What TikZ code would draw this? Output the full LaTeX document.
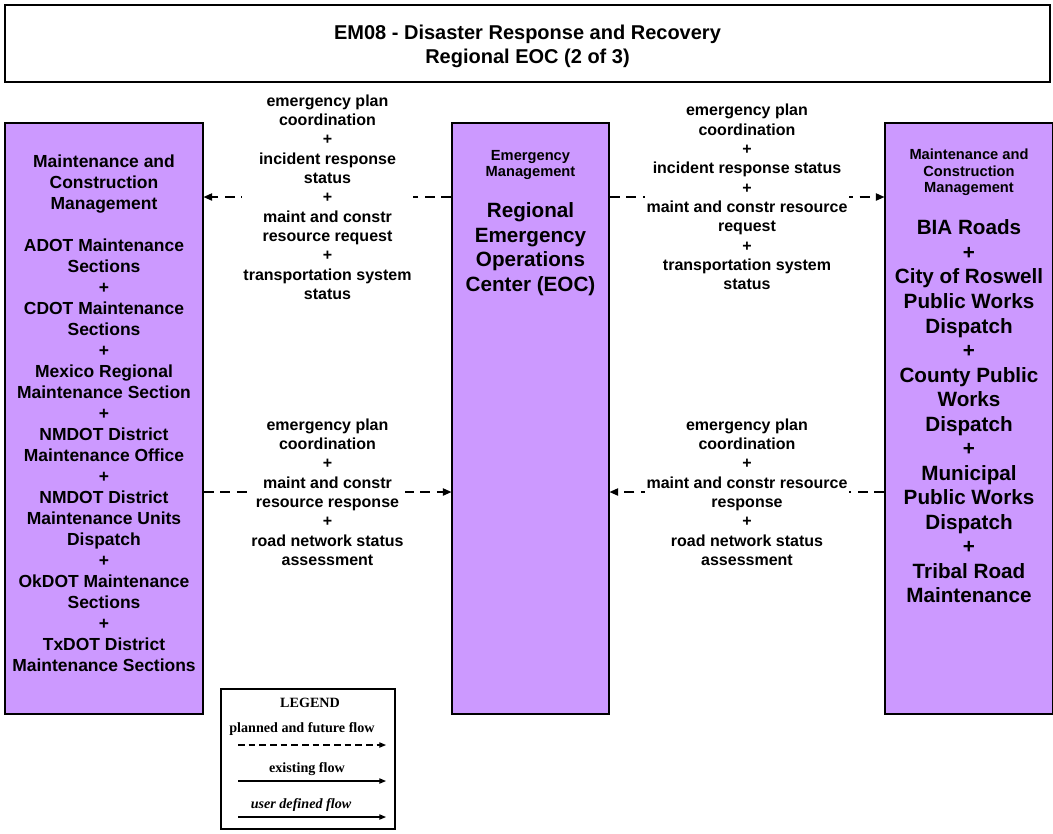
\documentclass[tikz,border=0pt]{standalone}
\usepackage{fontspec}
\setmainfont{Liberation Sans}
\newfontfamily\legendfont{Liberation Serif}
\usetikzlibrary{arrows.meta}
\definecolor{boxpurple}{RGB}{204,153,255}
\begin{document}
\begin{tikzpicture}[x=0.75pt, y=-0.75pt,
    sysbox/.style={draw=black, line width=0.8pt, fill=boxpurple, inner sep=0pt, minimum height=443.25pt},
    smalltext/.style={align=center, font=\fontsize{11}{12.4}\selectfont\bfseries},
    bigtext/.style={align=center, font=\fontsize{15.5}{18.4}\selectfont\bfseries},
    flow/.style={line width=1.1pt, dash pattern=on 7.5pt off 5pt, -{Triangle[length=6.5pt,width=5.5pt]}},
    flowlabel/.style={fill=white, inner sep=1pt, align=center, font=\fontsize{12}{14.5}\selectfont\bfseries},
    legendtext/.style={font=\legendfont\fontsize{10.6}{12}\selectfont\bfseries},
    legenditalic/.style={font=\legendfont\fontsize{10.6}{12}\selectfont\bfseries\itshape},
    legendline/.style={line width=0.8pt, -{Triangle[length=5pt,width=4pt]}}]
    \useasboundingbox (0,0) rectangle (1053,833);

    % 1. title
    \node[draw=black, line width=0.8pt, minimum width=783.75pt, minimum height=57.75pt, align=center,
          font=\fontsize{15}{18}\selectfont\bfseries] (title) at (527.5,43.5) {};
    \node[align=center, font=\fontsize{15}{18}\selectfont\bfseries] (titletext) at (527.5,46.5)
        {EM08 - Disaster Response and Recovery\\Regional EOC (2 of 3)};

    % 2. the three systems
    \node[sysbox, minimum width=148.5pt] (mcm) at (104,418.5) {};
    \node[sysbox, minimum width=117.75pt] (eoc) at (530.5,418.5) {};
    \node[sysbox, minimum width=126pt] (roads) at (969,418.5) {};

    \node[align=center, font=\fontsize{13.1}{15.75}\selectfont\bfseries] (mcmtext) at (104,413) {%
        Maintenance and\\Construction\\Management\\[15.75pt]%
        ADOT Maintenance\\Sections\\+\\CDOT Maintenance\\Sections\\+\\%
        Mexico Regional\\Maintenance Section\\+\\NMDOT District\\Maintenance Office\\+\\%
        NMDOT District\\Maintenance Units\\Dispatch\\+\\OkDOT Maintenance\\Sections\\+\\%
        TxDOT District\\Maintenance Sections};

    \node[smalltext] (eocsub) at (530.5,165) {Emergency\\Management};
    \node[bigtext] (eoctext) at (530.5,249) {Regional\\Emergency\\Operations\\Center (EOC)};

    \node[smalltext] (roadssub) at (969,172.5) {Maintenance and\\Construction\\Management};
    \node[bigtext] (roadstext) at (969,411.5) {%
        BIA Roads\\+\\City of Roswell\\Public Works\\Dispatch\\+\\County Public\\Works\\Dispatch\\+\\%
        Municipal\\Public Works\\Dispatch\\+\\Tribal Road\\Maintenance};

    % 3. flows
    \coordinate (upper) at (0,197);
    \coordinate (lower) at (0,492);
    \draw[flow] (eoc.west |- upper) -- node[flowlabel] (lbla) {emergency plan\\coordination\\+\\incident response\\status\\+\\maint and constr\\resource request\\+\\transportation system\\status} (mcm.east |- upper);
    \draw[flow] (eoc.east |- upper) -- node[flowlabel] (lblb) {emergency plan\\coordination\\+\\incident response status\\+\\maint and constr resource\\request\\+\\transportation system\\status} (roads.west |- upper);
    \draw[flow] (mcm.east |- lower) -- node[flowlabel] (lblc) {emergency plan\\coordination\\+\\maint and constr\\resource response\\+\\road network status\\assessment} (eoc.west |- lower);
    \draw[flow] (roads.west |- lower) -- node[flowlabel] (lbld) {emergency plan\\coordination\\+\\maint and constr resource\\response\\+\\road network status\\assessment} (eoc.east |- lower);

    % 4. legend
    \node[draw=black, line width=1.1pt, minimum width=130.5pt, minimum height=105pt] (legend) at (308,759) {};
    \node[legendtext] (legtitle) at (310,703) {LEGEND};
    \node[legendtext] (legplanned) at (302,729) {planned and future flow};
    \node[legendtext] (legexisting) at (307,769) {existing flow};
    \node[legenditalic] (leguser) at (301,805) {user defined flow};
    \coordinate (p1) at (238,745);
    \coordinate (p2) at (386,745);
    \coordinate (e1) at (238,781);
    \coordinate (e2) at (386,781);
    \coordinate (u1) at (238,817);
    \coordinate (u2) at (386,817);
    \draw[legendline, dash pattern=on 5pt off 3pt] (p1) -- (p2);
    \draw[legendline] (e1) -- (e2);
    \draw[legendline] (u1) -- (u2);
\end{tikzpicture}
\end{document}
